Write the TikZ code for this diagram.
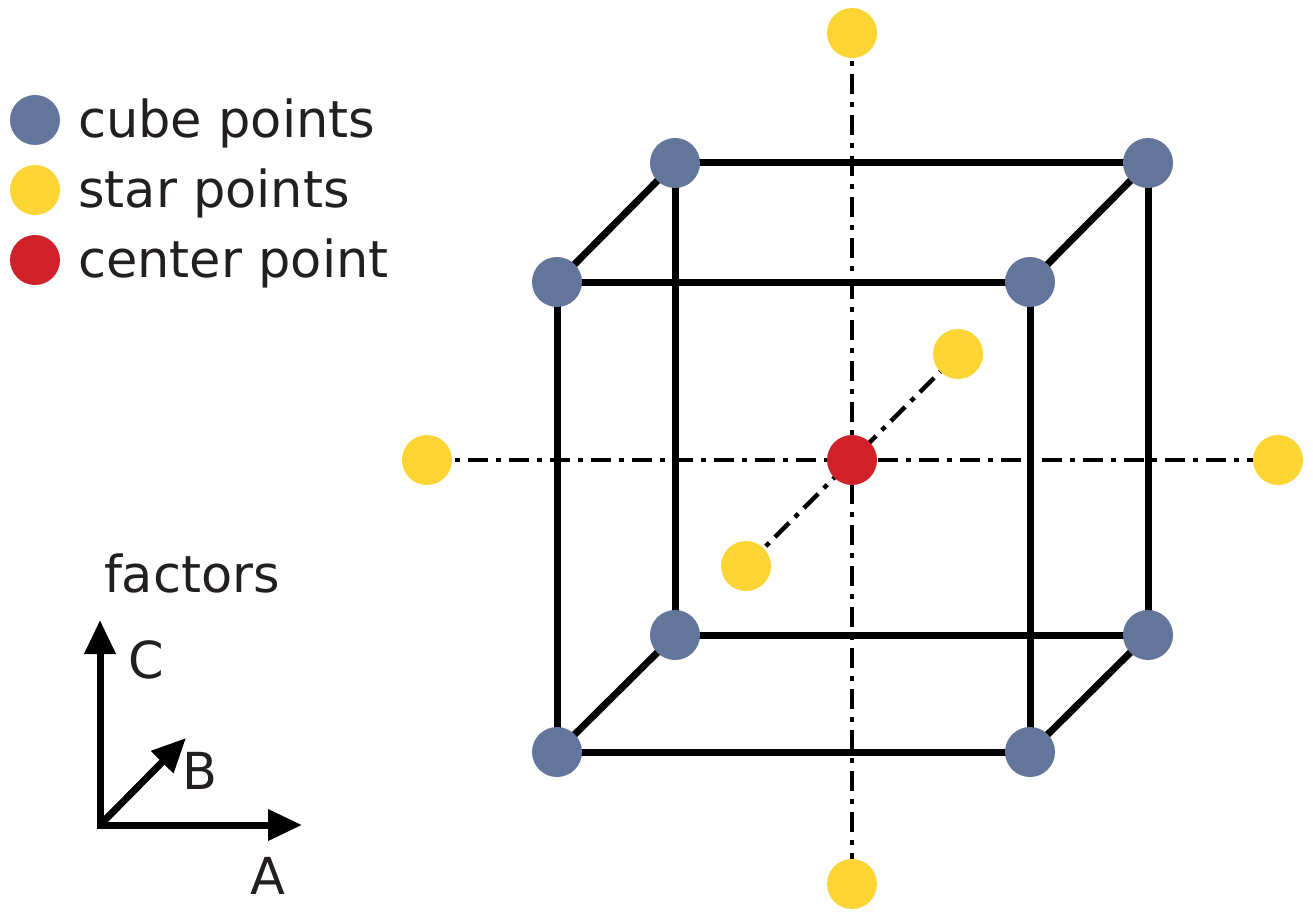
\documentclass[tikz,border=0pt]{standalone}
\usepackage{fontspec}
\setmainfont{DejaVu Sans}
\usetikzlibrary{arrows.meta}
\definecolor{cb}{HTML}{63759A}
\definecolor{cy}{HTML}{FCD535}
\definecolor{cr}{HTML}{D0202A}
\definecolor{tx}{HTML}{231F20}
\begin{document}
\begin{tikzpicture}[x=1pt,y=-1pt,
  dot/.style={circle,minimum size=50pt,inner sep=0pt},
  cube/.style={dot,fill=cb},star/.style={dot,fill=cy},ctr/.style={dot,fill=cr},
  edge/.style={line width=7pt},
  axis/.style={line width=4.5pt,dash pattern=on 20pt off 8pt on 5pt off 8pt},
  lbl/.style={font=\fontsize{51}{56}\selectfont,text=tx,inner sep=0pt},
  arr/.style={line width=7pt,-{Triangle[length=34pt,width=30pt]}}]
\useasboundingbox (0,0) rectangle (1313,917);
\coordinate (sT) at (852,33); \coordinate (sB) at (852,884);
\coordinate (sL) at (427,460); \coordinate (sR) at (1278,460);
\coordinate (sF) at (746,566); \coordinate (sK) at (958,354);
\draw[axis] (sT) -- (sB);
\draw[axis] (sL) -- (sR);
\draw[axis] (sF) -- (sK);
\coordinate (f1) at (557,282); \coordinate (f2) at (1030,282);
\coordinate (f3) at (1030,752); \coordinate (f4) at (557,752);
\coordinate (b1) at (675,163); \coordinate (b2) at (1148,163);
\coordinate (b3) at (1148,635); \coordinate (b4) at (675,635);
\draw[edge] (f1)--(f2)--(f3)--(f4)--cycle;
\draw[edge] (b1)--(b2)--(b3)--(b4)--cycle;
\draw[edge] (f1)--(b1) (f2)--(b2) (f3)--(b3) (f4)--(b4);
\foreach \p in {f1,f2,f3,f4,b1,b2,b3,b4} \node[cube] (n\p) at (\p) {};
\foreach \p in {sT,sB,sL,sR,sF,sK} \node[star] (n\p) at (\p) {};
\node[ctr] (c) at (852,460) {};
\node[cube] (l1) at (35,120) {}; \node[lbl,anchor=west] (t1) at (78,123) {cube points};
\node[star] (l2) at (35,190) {}; \node[lbl,anchor=west] (t2) at (78,193) {star points};
\node[ctr] (l3) at (35,260) {}; \node[lbl,anchor=west] (t3) at (78,263) {center point};
\node[lbl] (fac) at (192,573) {factors};
\coordinate (o) at (100,825);
\coordinate (ac) at (100,620); \coordinate (aa) at (302,825); \coordinate (ab) at (186,738);
\draw[arr] ([yshift=3.5pt]o) -- (ac);
\draw[arr] ([xshift=-3.5pt]o) -- (aa);
\draw[arr] (o) -- (ab);
\node[lbl] (lc) at (146,660) {C};
\node[lbl] (lb) at (200,771) {B};
\node[lbl] (la) at (268,876) {A};
\end{tikzpicture}
\end{document}
